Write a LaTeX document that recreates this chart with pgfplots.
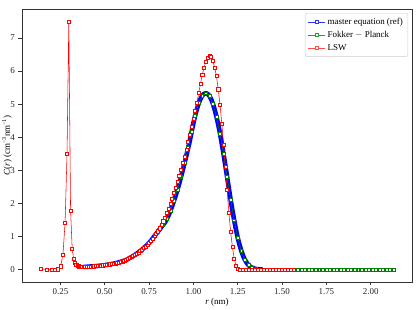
\documentclass[border=0pt]{standalone}
\usepackage{fontspec}
\setmainfont{Liberation Serif}
\usepackage{pgfplots}
\pgfplotsset{compat=1.18}
\usepackage{pgfplotstable}

% Cluster-size distributions, C(r) in units of 1e15 cm^-3 nm^-1
\pgfplotstableread{
r C
0.38 0.08
0.40 0.085
0.44 0.10
0.48 0.12
0.52 0.15
0.56 0.19
0.60 0.25
0.62 0.29
0.64 0.35
0.66 0.41
0.68 0.48
0.70 0.56
0.72 0.65
0.74 0.75
0.76 0.87
0.78 1.01
0.80 1.15
0.82 1.29
0.84 1.43
0.85 1.53
0.86 1.64
0.87 1.77
0.88 1.92
0.89 2.08
0.90 2.24
0.91 2.42
0.92 2.60
0.93 2.80
0.94 3.01
0.95 3.22
0.96 3.44
0.97 3.67
0.98 3.90
0.99 4.17
1.00 4.43
1.01 4.66
1.02 4.86
1.03 5.03
1.04 5.16
1.05 5.26
1.06 5.31
1.07 5.33
1.08 5.31
1.09 5.25
1.10 5.15
1.11 5.01
1.12 4.83
1.13 4.62
1.14 4.38
1.15 4.11
1.16 3.81
1.17 3.49
1.18 3.15
1.19 2.80
1.20 2.45
1.21 2.11
1.22 1.79
1.23 1.49
1.24 1.21
1.25 0.96
1.26 0.75
1.27 0.57
1.28 0.42
1.29 0.30
1.30 0.21
1.31 0.14
1.32 0.09
1.33 0.06
1.34 0.04
1.35 0.02
1.37 0.01
1.39 0.00
}\mastertable

\pgfplotstableread{
r C
0.41 0.09
0.43 0.095
0.45 0.105
0.47 0.115
0.49 0.13
0.51 0.14
0.53 0.16
0.55 0.18
0.57 0.20
0.59 0.235
0.61 0.27
0.63 0.32
0.65 0.38
0.67 0.44
0.69 0.52
0.71 0.60
0.73 0.70
0.75 0.81
0.77 0.94
0.79 1.08
0.81 1.22
0.83 1.36
0.85 1.53
0.87 1.77
0.89 2.08
0.91 2.42
0.93 2.80
0.95 3.22
0.97 3.67
0.99 4.17
1.01 4.66
1.03 5.03
1.05 5.26
1.07 5.33
1.09 5.25
1.11 5.01
1.13 4.62
1.15 4.11
1.17 3.49
1.19 2.80
1.21 2.11
1.23 1.49
1.25 0.96
1.27 0.57
1.29 0.30
1.31 0.14
1.33 0.06
1.35 0.02
1.37 0.01
1.39 0.00
1.41 0.00
1.43 0.00
1.45 0.00
1.47 0.00
1.49 0.00
1.51 0.00
1.53 0.00
1.55 0.00
1.57 0.00
1.59 0.00
1.61 0.00
1.63 0.00
1.65 0.00
1.67 0.00
1.69 0.00
1.71 0.00
1.73 0.00
1.75 0.00
1.77 0.00
1.79 0.00
1.81 0.00
1.83 0.00
1.85 0.00
1.87 0.00
1.89 0.00
1.91 0.00
1.93 0.00
1.95 0.00
1.97 0.00
1.99 0.00
2.01 0.00
2.03 0.00
2.05 0.00
2.07 0.00
2.09 0.00
2.11 0.00
2.13 0.00
}\fptable

\pgfplotstableread{
r C
0.138 0.03
0.174 0.00
0.199 0.00
0.219 0.00
0.236 0.01
0.251 0.10
0.264 0.46
0.276 1.41
0.287 3.49
0.297 7.50
0.307 1.79
0.316 0.64
0.324 0.33
0.332 0.20
0.339 0.15
0.346 0.12
0.353 0.10
0.360 0.09
0.366 0.085
0.372 0.08
0.38 0.08
0.39 0.08
0.40 0.085
0.41 0.09
0.42 0.09
0.43 0.095
0.44 0.10
0.45 0.105
0.46 0.11
0.47 0.115
0.48 0.12
0.49 0.13
0.50 0.135
0.51 0.14
0.52 0.15
0.53 0.16
0.54 0.17
0.55 0.18
0.56 0.19
0.57 0.20
0.58 0.22
0.59 0.235
0.60 0.25
0.61 0.27
0.62 0.29
0.63 0.32
0.64 0.35
0.65 0.38
0.66 0.41
0.67 0.44
0.68 0.48
0.69 0.52
0.70 0.56
0.71 0.60
0.72 0.65
0.73 0.70
0.74 0.75
0.75 0.81
0.76 0.87
0.77 0.94
0.78 1.01
0.79 1.08
0.80 1.16
0.81 1.25
0.82 1.35
0.83 1.46
0.84 1.58
0.85 1.71
0.86 1.85
0.87 2.00
0.88 2.15
0.89 2.31
0.90 2.48
0.91 2.65
0.92 2.83
0.93 3.02
0.94 3.22
0.95 3.42
0.96 3.63
0.97 3.85
0.98 4.08
0.99 4.32
1.00 4.56
1.01 4.80
1.02 5.05
1.03 5.35
1.04 5.62
1.05 5.88
1.06 6.10
1.07 6.28
1.08 6.40
1.09 6.46
1.10 6.42
1.11 6.30
1.12 6.10
1.13 5.85
1.14 5.45
1.15 4.98
1.16 4.42
1.17 3.78
1.18 3.10
1.19 2.40
1.20 1.72
1.21 1.14
1.22 0.68
1.23 0.34
1.24 0.11
1.25 0.02
1.26 0.00
1.277 0.00
1.294 0.00
1.311 0.00
1.328 0.00
1.345 0.00
1.362 0.00
1.379 0.00
1.396 0.00
1.413 0.00
1.430 0.00
1.447 0.00
1.464 0.00
1.481 0.00
1.498 0.00
1.515 0.00
1.532 0.00
1.549 0.00
1.566 0.00
}\lswtable

\definecolor{mplgreen}{rgb}{0,0.5,0}

\begin{document}
\begin{tikzpicture}
\begin{axis}[
  scale only axis, width=390bp, height=273bp,
  xmin=0.033, xmax=2.233, ymin=-0.375, ymax=7.875,
  axis line style={black!80, line width=0.6bp},
  tick style={black!80, line width=0.6bp},
  tick align=outside, tick pos=left, major tick length=3.5bp,
  xtick={0.25,0.5,0.75,1.0,1.25,1.5,1.75,2.0},
  xticklabels={0.25,0.50,0.75,1.00,1.25,1.50,1.75,2.00},
  ytick={0,1,2,3,4,5,6,7},
  /pgf/number format/assume math mode=true,
  tick label style={font=\fontsize{9}{11}\selectfont, black!85},
  label style={font=\fontsize{9}{11}\selectfont},
  xlabel={\textit{r} (nm)},
  ylabel={\textit{C}(\textit{r}) (cm\textsuperscript{−3}nm\textsuperscript{−1})},
  xlabel style={at={(rel axis cs:0.5,-0.073)}, anchor=center},
  ylabel style={at={(rel axis cs:-0.0385,0.5)}, anchor=center},
  legend cell align=left,
  legend style={at={(rel axis cs:0.99,0.985)}, anchor=north east,
    draw=black!20, rounded corners=2bp, fill=white,
    font=\fontsize{9}{10.5}\selectfont, row sep=1.2bp, inner sep=3bp},
]
\coordinate (SW) at (rel axis cs:0,0);
\coordinate (NE) at (rel axis cs:1,1);
\coordinate (NW) at (rel axis cs:0,1);

% reference solution: densely sampled, drawn as a broad band
\addplot[blue, line width=4.6bp, line join=round, forget plot] table[x=r, y=C] {\mastertable};
\addplot[mplgreen, line width=0.5bp, mark=square*, mark size=1.45bp,
  mark options={draw=mplgreen, fill=white, line width=0.5bp}, forget plot] table[x=r, y=C] {\fptable};
\addplot[red, line width=0.55bp, mark=square*, mark size=1.55bp,
  mark options={draw=red, fill=white, line width=0.5bp}, forget plot] table[x=r, y=C] {\lswtable};

\addlegendimage{blue!80, line width=0.6bp, mark=square*, mark size=1.6bp, mark options={draw=blue!80, fill=white}}
\addlegendentry{master equation (ref)}
\addlegendimage{mplgreen!80, line width=0.6bp, mark=square*, mark size=1.6bp, mark options={draw=mplgreen!80, fill=white}}
\addlegendentry{Fokker $-$ Planck}
\addlegendimage{red!70, line width=0.6bp, mark=square*, mark size=1.6bp, mark options={draw=red!70, fill=white}}
\addlegendentry{LSW}

\node[anchor=base west, inner sep=0pt, font=\fontsize{8}{9}\selectfont, black!85]
  at ([yshift=2.5bp]NW) {×10\textsuperscript{15}};
\end{axis}
\pgfresetboundingbox
\path[use as bounding box] ([shift={(-22bp,-28bp)}]SW) rectangle ([shift={(6bp,9bp)}]NE);
\end{tikzpicture}
\end{document}
